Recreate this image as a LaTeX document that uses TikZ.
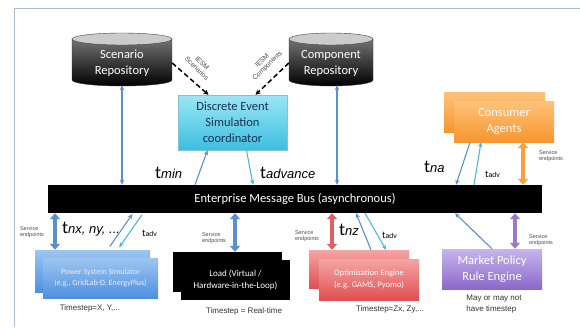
\documentclass[tikz,border=0pt]{standalone}
\usepackage{fontspec}
\setmainfont{Carlito}
\newfontfamily\arialf{Liberation Sans}
\usetikzlibrary{arrows.meta}
\definecolor{framec}{HTML}{A8BCD0}
\definecolor{barrow}{HTML}{5B8FD0}
\definecolor{carrow}{HTML}{4FB8D8}
\definecolor{oarrow}{HTML}{F8A040}
\definecolor{rarrow}{HTML}{E06060}
\definecolor{parrow}{HTML}{9B7BD0}
\definecolor{destop}{HTML}{9BE6F5}
\definecolor{desbot}{HTML}{3CBFE0}
\definecolor{destext}{HTML}{1A3050}
\definecolor{constop}{HTML}{FFC27A}
\definecolor{consbot}{HTML}{F7962E}
\definecolor{psstop}{HTML}{9CC6F0}
\definecolor{pssbot}{HTML}{4F8FDF}
\definecolor{opttop}{HTML}{F5A5A5}
\definecolor{optbot}{HTML}{E05050}
\definecolor{mkttop}{HTML}{C8B4EE}
\definecolor{mktbot}{HTML}{8A68C8}
\tikzset{
  bigtext/.style={font=\fontsize{12.5}{16}\selectfont, align=center},
  cyltext/.style={bigtext, text=white, minimum width=100pt, minimum height=44pt, inner sep=0pt},
  stackbox/.style={minimum width=#1, inner sep=0pt, align=center},
  thinarr/.style={barrow, line width=1.2pt, {Stealth[length=5pt,width=4.5pt]}-{Stealth[length=5pt,width=4.5pt]}},
  bluearr/.style={barrow, line width=1.1pt, -{Stealth[length=5pt,width=4.5pt]}},
  cyanarr/.style={carrow, line width=1.1pt, -{Stealth[length=5pt,width=4.5pt]}},
  fatarr/.style={#1, line width=4pt, {Triangle[length=6pt,width=10pt]}-{Triangle[length=6pt,width=10pt]}},
  dasharr/.style={black, line width=1.5pt, dash pattern=on 5pt off 3pt, -{Stealth[length=5pt,width=5pt]}},
  svc/.style={font=\arialf\fontsize{5.5}{6.5}\selectfont, text=black!70, align=left, inner sep=0pt},
  tsl/.style={font=\arialf\fontsize{8}{11}\selectfont, text=black!80, align=left, inner sep=0pt},
  iesm/.style={font=\arialf\fontsize{6.8}{7.4}\selectfont, text=black!70, align=center, inner sep=0pt},
  tlab/.style={anchor=base west, inner sep=0pt}
}
\newcommand{\bigt}[1]{{\fontsize{18}{18}\selectfont t}{\arialf\itshape\fontsize{13}{13}\selectfont #1}}
\newcommand{\smallt}[1]{{\fontsize{10}{10}\selectfont t}{\arialf\fontsize{7}{7}\selectfont #1}}
\begin{document}
\begin{tikzpicture}[x=1pt,y=-1pt]
\useasboundingbox (0,0) rectangle (580,327);
\fill[white] (0,0) rectangle (580,327);
\draw[framec, line width=1pt] (14,327) -- (14,8) -- (580,8);

% cylinders
\shade[top color=black!55, bottom color=black, draw=black!80] (72,39) -- (72,80) arc[start angle=180,end angle=0,x radius=50,y radius=6] -- (172,39) -- cycle;
\filldraw[fill=black!20, draw=black!75] (122,39) ellipse[x radius=50, y radius=6];
\node[cyltext] (scen) at (122,63) {Scenario\\Repository};

\shade[top color=black!55, bottom color=black, draw=black!80] (289,39) -- (289,80) arc[start angle=180,end angle=0,x radius=42,y radius=6] -- (373,39) -- cycle;
\filldraw[fill=black!20, draw=black!75] (331,39) ellipse[x radius=42, y radius=6];
\node[cyltext, minimum width=84pt] (comp) at (331,63) {Component\\Repository};

% DES coordinator
\node[bigtext, text=destext, minimum width=109pt, minimum height=55pt, inner sep=0pt,
      top color=destop, bottom color=desbot, draw=desbot!80!black!60] (des) at (232.5,122.5)
      {Discrete Event\\Simulation\\coordinator};

\draw[dasharr] (scen.east) -- ([xshift=-24pt]des.north);
\draw[dasharr] (comp.west) -- ([xshift=23pt]des.north);
\node[iesm, rotate=-45] (iesms) at (199.5,66) {IESM\\Scenarios};
\node[iesm, rotate=45] (iesmc) at (265,63.5) {IESM\\Components};

% bus
\node[bigtext, fill=black, text=white, minimum width=494pt, minimum height=28pt, inner sep=0pt] (bus) at (295,199)
  {Enterprise Message Bus (asynchronous)};

\draw[thinarr] (scen.south) -- (scen.south |- bus.north);
\draw[thinarr] ([xshift=6pt]comp.south) -- ([xshift=6pt]comp.south |- bus.north);

\draw[bluearr] ([xshift=-100pt]bus.north) -- ([xshift=-25pt]des.south);
\draw[cyanarr] ([xshift=14pt]des.south) -- ([xshift=-42pt]bus.north);
\node[tlab] (tmin) at (155,178) {\bigt{min}};
\node[tlab] (tadvance) at (260,178) {\bigt{advance}};

% consumer agents
\node[stackbox=101pt, minimum height=40pt, top color=constop, bottom color=consbot] (cback) at (494.5,112) {};
\node[stackbox=100pt, minimum height=41pt, top color=constop, bottom color=consbot, bigtext, text=white] (cons) at (504,121.5) {Consumer\\Agents};
\draw[bluearr] ([xshift=-34pt]cons.south) -- ([xshift=161pt]bus.north);
\draw[cyanarr] ([xshift=179pt]bus.north) -- ([xshift=-23pt]cons.south);
\draw[fatarr=oarrow] ([xshift=19pt]cons.south) -- ([xshift=19pt]cons.south |- bus.north);
\node[tlab] (tna) at (424,172) {\bigt{na}};
\node[tlab] (tadv1) at (485,177) {\smallt{adv}};
\node[svc] (svc1) at (551,156) {Service\\endpoints};

% power system simulator
\node[stackbox=115pt, minimum height=42pt, top color=psstop, bottom color=pssbot] (pback) at (92.5,271) {};
\node[stackbox=115pt, minimum height=40pt, top color=psstop, bottom color=pssbot, text=white!92!blue,
      font=\fontsize{8}{11}\selectfont] (pss) at (100.5,278) {Power System Simulator\\(e.g., GridLab-D, EnergyPlus)};
\draw[fatarr=barrow] ([xshift=-240pt]bus.south) -- ([xshift=-240pt]bus.south |- pback.north);
\node[svc] (svc2) at (32,232) {Service\\endpoints};
\node[tlab] (tnx) at (62,233) {\bigt{nx, ny, ...}};
\draw[bluearr, shorten <=4pt, shorten >=1pt] ([xshift=15pt]pback.north) -- ([xshift=-162pt]bus.south);
\draw[cyanarr, shorten <=2pt, shorten >=3pt] ([xshift=-152pt]bus.south) -- ([xshift=25pt]pback.north);
\node[tlab] (tadv2) at (142,236) {\smallt{adv}};
\node[tsl] (ts1) at (90,308) {Timestep=X, Y,...};

% load
\node[stackbox=109pt, minimum height=40pt, fill=black] (lback) at (227.5,272) {};
\node[stackbox=109pt, minimum height=40pt, fill=black, text=white, font=\fontsize{9}{12}\selectfont] (load) at (235.5,280)
  {Load (Virtual /\\Hardware-in-the-Loop)};
\draw[fatarr=barrow] ([xshift=-60pt]bus.south) -- ([xshift=-60pt]bus.south |- lback.north);
\node[svc] (svc3) at (214,238) {Service\\endpoints};
\node[tsl] (ts2) at (244,311) {Timestep = Real-time};

% optimization engine
\node[stackbox=100pt, minimum height=38pt, top color=opttop, bottom color=optbot] (oback) at (359,269) {};
\node[stackbox=100pt, minimum height=41pt, top color=opttop, bottom color=optbot, text=white,
      font=\fontsize{8.5}{12}\selectfont] (opt) at (369,279.5) {Optimization Engine\\(e.g. GAMS, Pyomo)};
\draw[fatarr=rarrow] ([xshift=37pt]bus.south) -- ([xshift=37pt]bus.south |- oback.north);
\node[svc] (svc4) at (307,236) {Service\\endpoints};
\node[tlab] (tnz) at (339,235) {\bigt{nz}};
\draw[bluearr] ([xshift=12pt]oback.north) -- ([xshift=61pt]bus.south);
\draw[cyanarr] ([xshift=70pt]bus.south) -- ([xshift=27pt]oback.north);
\node[tlab] (tadv3) at (382,238) {\smallt{adv}};
\node[tsl] (ts3) at (390,309) {Timestep=Zx, Zy,...};

% market policy
\node[stackbox=100pt, minimum height=40pt, top color=mkttop, bottom color=mktbot, bigtext, text=white] (mkt) at (492,269)
  {Market Policy\\Rule Engine};
\draw[fatarr=parrow] ([xshift=220pt]bus.south) -- ([xshift=220pt]bus.south |- mkt.north);
\node[svc] (svc5) at (541,240) {Service\\endpoints};
\draw[bluearr] (mkt.north) -- ([xshift=160pt]bus.south);
\node[tsl] (ts4) at (494,304) {May or may not\\have timestep};
\end{tikzpicture}
\end{document}
